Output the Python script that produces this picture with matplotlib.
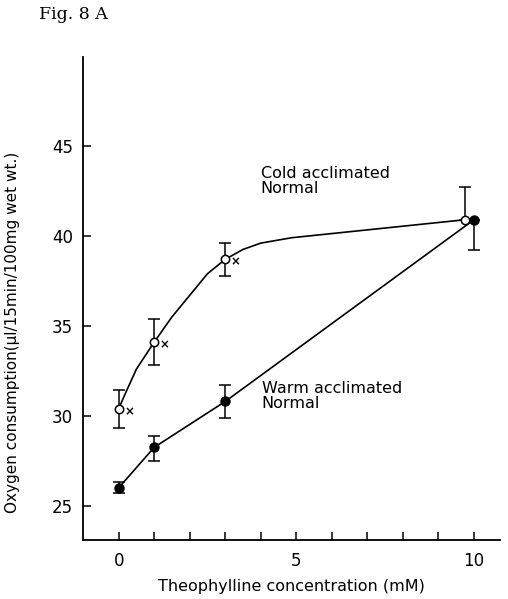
import numpy as np
import matplotlib
matplotlib.use('Agg')
import matplotlib.pyplot as plt

# theophylline concentration (mM)
conc = [0, 1, 3, 10]
cold_x = [0, 1, 3, 9.75]   # open circle at 10 drawn just left of the filled one

cold_y = [30.4, 34.1, 38.7, 40.9]
cold_lo = [1.05, 1.25, 0.95, 0.0]
cold_hi = [1.05, 1.3, 0.9, 1.8]

warm_y = [26.0, 28.25, 30.8, 40.9]
warm_lo = [0.3, 0.75, 0.9, 1.7]
warm_hi = [0.3, 0.65, 0.9, 0.0]

# hand drawn smooth curve through the cold points
curve_x = [0, 0.2, 0.5, 1, 1.5, 2.0, 2.5, 3, 3.5, 4, 4.87, 9.75]
curve_y = [30.4, 31.3, 32.6, 34.1, 35.5, 36.7, 37.9, 38.7, 39.25, 39.6, 39.9, 40.9]

xticks = [0, 5, 10]
yticks = [25, 30, 35, 40, 45]

plt.rcParams['font.family'] = ['DejaVu Sans']

fig = plt.figure(figsize=(5.08, 5.99), dpi=100)
ax = fig.add_axes([0.163, 0.0985, 0.821, 0.8065])

ax.plot(curve_x, curve_y, color='black', lw=1.2)
ax.plot(conc, warm_y, color='black', lw=1.2)

ax.errorbar(cold_x, cold_y, yerr=[cold_lo, cold_hi], fmt='o', mfc='white', mec='black',
            ms=6, mew=1.1, ecolor='black', elinewidth=1.1, capsize=4, capthick=1.1, zorder=3)
ax.errorbar(conc, warm_y, yerr=[warm_lo, warm_hi], fmt='o', mfc='black', mec='black',
            ms=6.5, ecolor='black', elinewidth=1.1, capsize=4, capthick=1.1, zorder=3)

for x, y in zip(cold_x[:3], cold_y[:3]):
    ax.annotate('×', (x, y), xytext=(4, -2), textcoords='offset points',
                fontsize=8.5, fontweight='bold', va='center', ha='left')

ax.text(4.0, 43.9, 'Cold acclimated\nNormal', fontsize=11.5, linespacing=1.05, va='top')
ax.text(4.03, 31.95, 'Warm acclimated\nNormal', fontsize=11.5, linespacing=1.05, va='top')

ax.set_xlim(-1.01, 10.73)
ax.set_ylim(23.1, 49.95)
ax.set_xticks(range(0, 11))
ax.set_xticklabels([str(t) if t in xticks else '' for t in range(0, 11)])
ax.set_yticks(yticks)
ax.tick_params(direction='in', length=6, width=1.1, labelsize=12, pad=7)
ax.tick_params(axis='x', pad=9)

for s in ['top', 'right']:
    ax.spines[s].set_visible(False)
for s in ['left', 'bottom']:
    ax.spines[s].set_linewidth(1.3)

ax.set_xlabel('Theophylline concentration (mM)', fontsize=11.5, labelpad=6)
ax.set_ylabel('Oxygen consumption(μl/15min/100mg wet wt.)', fontsize=11)
ax.yaxis.set_label_coords(-0.15, 0.43)

fig.text(0.077, 0.975, 'Fig. 8 A', fontsize=12.5, family='DejaVu Serif', va='center')

fig.savefig('out.png', dpi=100)
